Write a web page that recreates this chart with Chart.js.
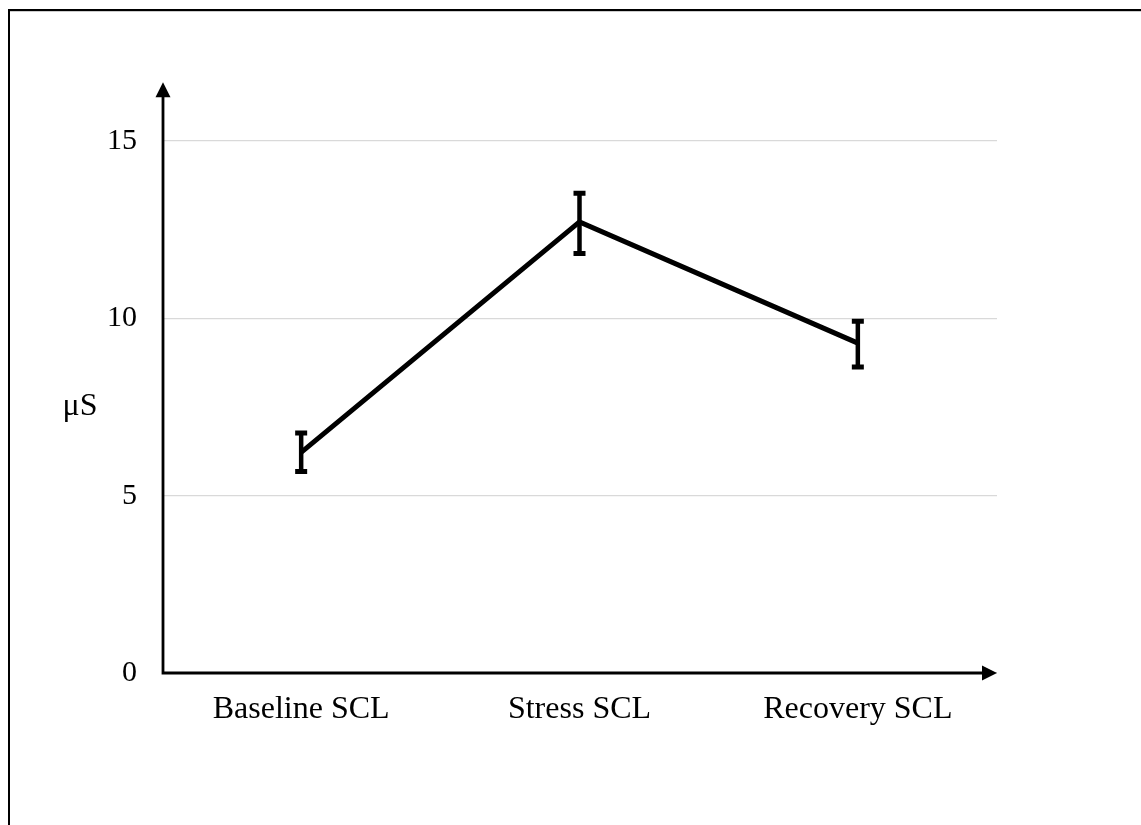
<!DOCTYPE html>
<html>
<head>
<meta charset="utf-8">
<script src="https://cdn.jsdelivr.net/npm/chart.js@4.4.0/dist/chart.umd.min.js"></script>
<style>
    html, body { margin: 0; padding: 0; background: #fff; overflow: hidden; }
    #frame {
        position: absolute; left: 8px; top: 9px; width: 2000px; height: 2000px;
        border-top: 2px solid #000; border-left: 2px solid #000;
        box-shadow: inset 0 1px 0 #ccc;
    }
    #wrap { position: absolute; left: 0; top: 0; width: 1141px; height: 825px; }
</style>
</head>
<body>
<div id="frame"></div>
<div id="wrap"><canvas id="scl_chart" width="1141" height="825"></canvas></div>
<script>
var categories = ['Baseline SCL', 'Stress SCL', 'Recovery SCL'];
var meanValues = [6.22, 12.72, 9.3];
var upperValues = [6.77, 13.53, 9.92];
var lowerValues = [5.68, 11.83, 8.63];
var yTicks = [0, 5, 10, 15];
var yAxisLabel = 'μS';
var yArrowTop = 16.66;

var serif = '"Liberation Serif", "Times New Roman", serif';

// axes with arrow heads, error bars and the horizontal unit label
var extrasPlugin = {
    id: 'extras',
    afterDatasetsDraw: function(chart) {
        var ctx = chart.ctx;
        var x = chart.scales.x, y = chart.scales.y;
        ctx.save();
        ctx.strokeStyle = '#000';
        ctx.lineCap = 'butt';
        for (var i = 0; i < categories.length; i++) {
            var px = x.getPixelForValue(i);
            var top = y.getPixelForValue(upperValues[i]);
            var bottom = y.getPixelForValue(lowerValues[i]);
            ctx.lineWidth = 4.5;
            ctx.beginPath();
            ctx.moveTo(px, top);
            ctx.lineTo(px, bottom);
            ctx.stroke();
            ctx.lineWidth = 5;
            ctx.beginPath();
            ctx.moveTo(px - 6, top);
            ctx.lineTo(px + 6, top);
            ctx.moveTo(px - 6, bottom);
            ctx.lineTo(px + 6, bottom);
            ctx.stroke();
        }
        ctx.restore();
    },
    afterDraw: function(chart) {
        var ctx = chart.ctx;
        var area = chart.chartArea;
        var y = chart.scales.y;
        var x0 = area.left + 1;
        var y0 = y.getPixelForValue(0);
        var yTip = y.getPixelForValue(yArrowTop);
        var xTip = area.right;
        ctx.save();
        ctx.strokeStyle = '#000';
        ctx.fillStyle = '#000';
        ctx.lineWidth = 2.8;
        ctx.beginPath();
        ctx.moveTo(x0, y0 + 1.4);
        ctx.lineTo(x0, yTip + 10);
        ctx.moveTo(x0 - 1.4, y0);
        ctx.lineTo(xTip - 10, y0);
        ctx.stroke();
        ctx.beginPath();
        ctx.moveTo(x0, yTip);
        ctx.lineTo(x0 - 7.5, yTip + 15);
        ctx.lineTo(x0 + 7.5, yTip + 15);
        ctx.closePath();
        ctx.fill();
        ctx.beginPath();
        ctx.moveTo(xTip, y0);
        ctx.lineTo(xTip - 15, y0 - 7.5);
        ctx.lineTo(xTip - 15, y0 + 7.5);
        ctx.closePath();
        ctx.fill();

        ctx.font = '32px ' + serif;
        ctx.textAlign = 'center';
        ctx.textBaseline = 'middle';
        ctx.fillText(yAxisLabel, 80, (area.top + area.bottom) / 2);
        ctx.restore();
    }
};

var chart = new Chart(document.getElementById('scl_chart'), {
    type: 'line',
    data: {
        labels: categories,
        datasets: [{
            data: meanValues,
            borderColor: '#000',
            borderWidth: 5,
            pointRadius: 0,
            tension: 0,
            fill: false
        }]
    },
    options: {
        responsive: false,
        animation: false,
        events: [],
        layout: { padding: { top: 141, right: 144, left: 0, bottom: 0 } },
        plugins: {
            legend: { display: false },
            tooltip: { enabled: false }
        },
        scales: {
            x: {
                offset: true,
                grid: { display: false, drawTicks: false },
                border: { display: false },
                ticks: { color: '#000', padding: 17, font: { family: serif, size: 32 } },
                afterFit: function(s) { s.height = 152; }
            },
            y: {
                min: yTicks[0],
                max: yTicks[yTicks.length - 1],
                afterBuildTicks: function(s) {
                    s.ticks = yTicks.map(function(v) { return { value: v }; });
                },
                grid: { color: '#d9d9d9', lineWidth: 1.3, drawTicks: false },
                border: { display: false },
                ticks: { color: '#000', padding: 25, font: { family: serif, size: 30 } },
                afterFit: function(s) { s.width = 162; }
            }
        }
    },
    plugins: [extrasPlugin]
});
</script>
</body>
</html>
